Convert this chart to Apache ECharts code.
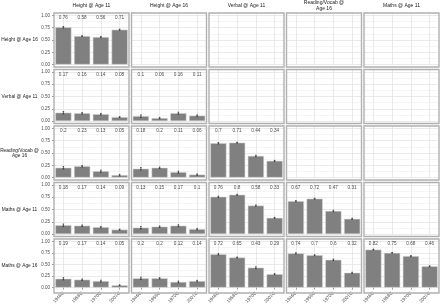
<!DOCTYPE html>
<html><head><meta charset="utf-8">
<script src="https://cdn.jsdelivr.net/npm/echarts@6/dist/echarts.min.js"></script>
<style>html,body{margin:0;padding:0;background:#fff}#c{width:440px;height:306px}</style>
</head><body><div id="c"></div>
<script>
const cohorts = ['1946C','1958C','1970C','2001C'];
const colNames = ['Height @ Age 11','Height @ Age 16','Verbal @ Age 11','Reading/Vocab @\nAge 16','Maths @ Age 11'];
const rowNames = ['Height @ Age 16','Verbal @ Age 11','Reading/Vocab @\nAge 16','Maths @ Age 11','Maths @ Age 16'];
const yTicks = [0, 0.25, 0.5, 0.75, 1];

// correlations (row measure vs column measure)
const height16_vs_height11 = [0.76,0.58,0.56,0.71];
const verbal11_vs_height11 = [0.17,0.16,0.14,0.08];
const verbal11_vs_height16 = [0.1,0.06,0.16,0.11];
const reading16_vs_height11 = [0.2,0.23,0.13,0.05];
const reading16_vs_height16 = [0.18,0.2,0.11,0.06];
const reading16_vs_verbal11 = [0.7,0.71,0.44,0.34];
const maths11_vs_height11 = [0.18,0.17,0.14,0.09];
const maths11_vs_height16 = [0.13,0.15,0.17,0.1];
const maths11_vs_verbal11 = [0.76,0.8,0.58,0.33];
const maths11_vs_reading16 = [0.67,0.72,0.47,0.31];
const maths16_vs_height11 = [0.19,0.17,0.14,0.05];
const maths16_vs_height16 = [0.2,0.2,0.12,0.14];
const maths16_vs_verbal11 = [0.72,0.65,0.43,0.29];
const maths16_vs_reading16 = [0.74,0.7,0.6,0.32];
const maths16_vs_maths11 = [0.82,0.75,0.68,0.46];

// error-bar half widths
const err_height16_vs_height11 = [0.015,0.01,0.012,0.01];
const err_verbal11_vs_height11 = [0.025,0.015,0.015,0.01];
const err_verbal11_vs_height16 = [0.025,0.015,0.02,0.015];
const err_reading16_vs_height11 = [0.025,0.015,0.02,0.015];
const err_reading16_vs_height16 = [0.025,0.015,0.02,0.015];
const err_reading16_vs_verbal11 = [0.015,0.01,0.015,0.01];
const err_maths11_vs_height11 = [0.025,0.015,0.015,0.01];
const err_maths11_vs_height16 = [0.025,0.015,0.02,0.015];
const err_maths11_vs_verbal11 = [0.012,0.01,0.012,0.01];
const err_maths11_vs_reading16 = [0.012,0.01,0.015,0.012];
const err_maths16_vs_height11 = [0.025,0.015,0.02,0.01];
const err_maths16_vs_height16 = [0.025,0.015,0.02,0.015];
const err_maths16_vs_verbal11 = [0.015,0.01,0.02,0.012];
const err_maths16_vs_reading16 = [0.012,0.01,0.015,0.012];
const err_maths16_vs_maths11 = [0.01,0.008,0.012,0.01];

const panels = [
  [height16_vs_height11],
  [verbal11_vs_height11, verbal11_vs_height16],
  [reading16_vs_height11, reading16_vs_height16, reading16_vs_verbal11],
  [maths11_vs_height11, maths11_vs_height16, maths11_vs_verbal11, maths11_vs_reading16],
  [maths16_vs_height11, maths16_vs_height16, maths16_vs_verbal11, maths16_vs_reading16, maths16_vs_maths11]
];
const errors = [
  [err_height16_vs_height11],
  [err_verbal11_vs_height11, err_verbal11_vs_height16],
  [err_reading16_vs_height11, err_reading16_vs_height16, err_reading16_vs_verbal11],
  [err_maths11_vs_height11, err_maths11_vs_height16, err_maths11_vs_verbal11, err_maths11_vs_reading16],
  [err_maths16_vs_height11, err_maths16_vs_height16, err_maths16_vs_verbal11, err_maths16_vs_reading16, err_maths16_vs_maths11]
];

const FONT = 'Liberation Sans, Arial, sans-serif';
const L0 = 54, SX = 77.5, PW = 75, T0 = 13, SY = 56.5, PH = 54;
const YMAX = 1.05, EXP = PH * 0.05 / 1.1;
const LABEL_Y = 0.95;

const grids = [], xAxes = [], yAxes = [], series = [], graphics = [];
let k = 0;
for (let i = 0; i < 5; i++) {
  for (let j = 0; j < 5; j++) {
    const left = L0 + j * SX, top = T0 + i * SY;
    grids.push({ left: left, top: top, width: PW, height: PH - EXP, show: false });
    xAxes.push({
      type: 'category', gridIndex: k, data: cohorts, boundaryGap: true,
      axisLine: { show: false },
      axisTick: { show: i === 4, length: 2, alignWithLabel: true, lineStyle: { color: '#333', width: 0.5 } },
      axisLabel: { show: i === 4, rotate: 45, fontSize: 4.6, color: '#4d4d4d', fontFamily: FONT, margin: 5 },
      splitLine: { show: true, alignWithLabel: true, lineStyle: { color: '#e4e4e4', width: 0.8 } }
    });
    yAxes.push({
      type: 'value', gridIndex: k, min: 0, max: YMAX, interval: 0.25,
      axisLine: { show: false },
      axisTick: { show: j === 0, length: 2, customValues: yTicks, lineStyle: { color: '#333', width: 0.5 } },
      axisLabel: { show: j === 0, customValues: yTicks, fontSize: 4.5, color: '#4d4d4d', fontFamily: FONT, margin: 4,
        formatter: v => v.toFixed(2) },
      splitLine: { show: true, lineStyle: { color: '#e4e4e4', width: 0.8 } },
      minorTick: { show: false, splitNumber: 2 },
      minorSplitLine: { show: true, lineStyle: { color: '#eeeeee', width: 0.6 } }
    });
    graphics.push({ type: 'rect', shape: { x: left, y: top, width: PW, height: PH }, z: 100,
      style: { fill: 'none', stroke: '#b0b0b0', lineWidth: 1.4 } });
    if (j <= i) {
      const vals = panels[i][j], errs = errors[i][j];
      series.push({
        type: 'bar', xAxisIndex: k, yAxisIndex: k, data: vals, barWidth: '86%',
        itemStyle: { color: '#808080', borderColor: '#d9d9d9', borderWidth: 0.5 }, silent: true, animation: false
      });
      series.push({
        type: 'custom', xAxisIndex: k, yAxisIndex: k, animation: false, silent: true, z: 5,
        data: vals.map((v, n) => [n, v, errs[n]]),
        renderItem: (params, api) => {
          const x = api.value(0), v = api.value(1), e = api.value(2);
          const a = api.coord([x, v + e]), b = api.coord([x, v - e]);
          const st = { stroke: '#111', lineWidth: 0.6 };
          return { type: 'group', children: [
            { type: 'line', shape: { x1: a[0], y1: a[1], x2: b[0], y2: b[1] }, style: st },
            { type: 'line', shape: { x1: a[0] - 0.8, y1: a[1], x2: a[0] + 0.8, y2: a[1] }, style: st },
            { type: 'line', shape: { x1: b[0] - 0.8, y1: b[1], x2: b[0] + 0.8, y2: b[1] }, style: st }
          ]};
        }
      });
      series.push({
        type: 'scatter', xAxisIndex: k, yAxisIndex: k, symbolSize: 0, animation: false, silent: true,
        data: vals.map((v, n) => ({ value: [n, LABEL_Y], r: v })),
        label: { show: true, position: 'inside', formatter: p => String(p.data.r),
          fontSize: 4.7, color: '#1a1a1a', fontFamily: FONT }
      });
    }
    k++;
  }
}
colNames.forEach((name, j) => {
  graphics.push({ type: 'text', x: L0 + j * SX + PW / 2, y: 5.5,
    style: { text: name, fontSize: 5, fontFamily: FONT, fill: '#1a1a1a', align: 'center', verticalAlign: 'middle', lineHeight: 5.6 } });
});
rowNames.forEach((name, i) => {
  graphics.push({ type: 'text', x: 19.5, y: T0 + i * SY + PH / 2,
    style: { text: name, fontSize: 4.8, fontFamily: FONT, fill: '#1a1a1a', align: 'center', verticalAlign: 'middle', lineHeight: 5.4 } });
});

const chart = echarts.init(document.getElementById('c'), null, { renderer: 'canvas' });
chart.setOption({
  animation: false,
  backgroundColor: '#fff',
  grid: grids, xAxis: xAxes, yAxis: yAxes, series: series, graphic: graphics
});
</script></body></html>
